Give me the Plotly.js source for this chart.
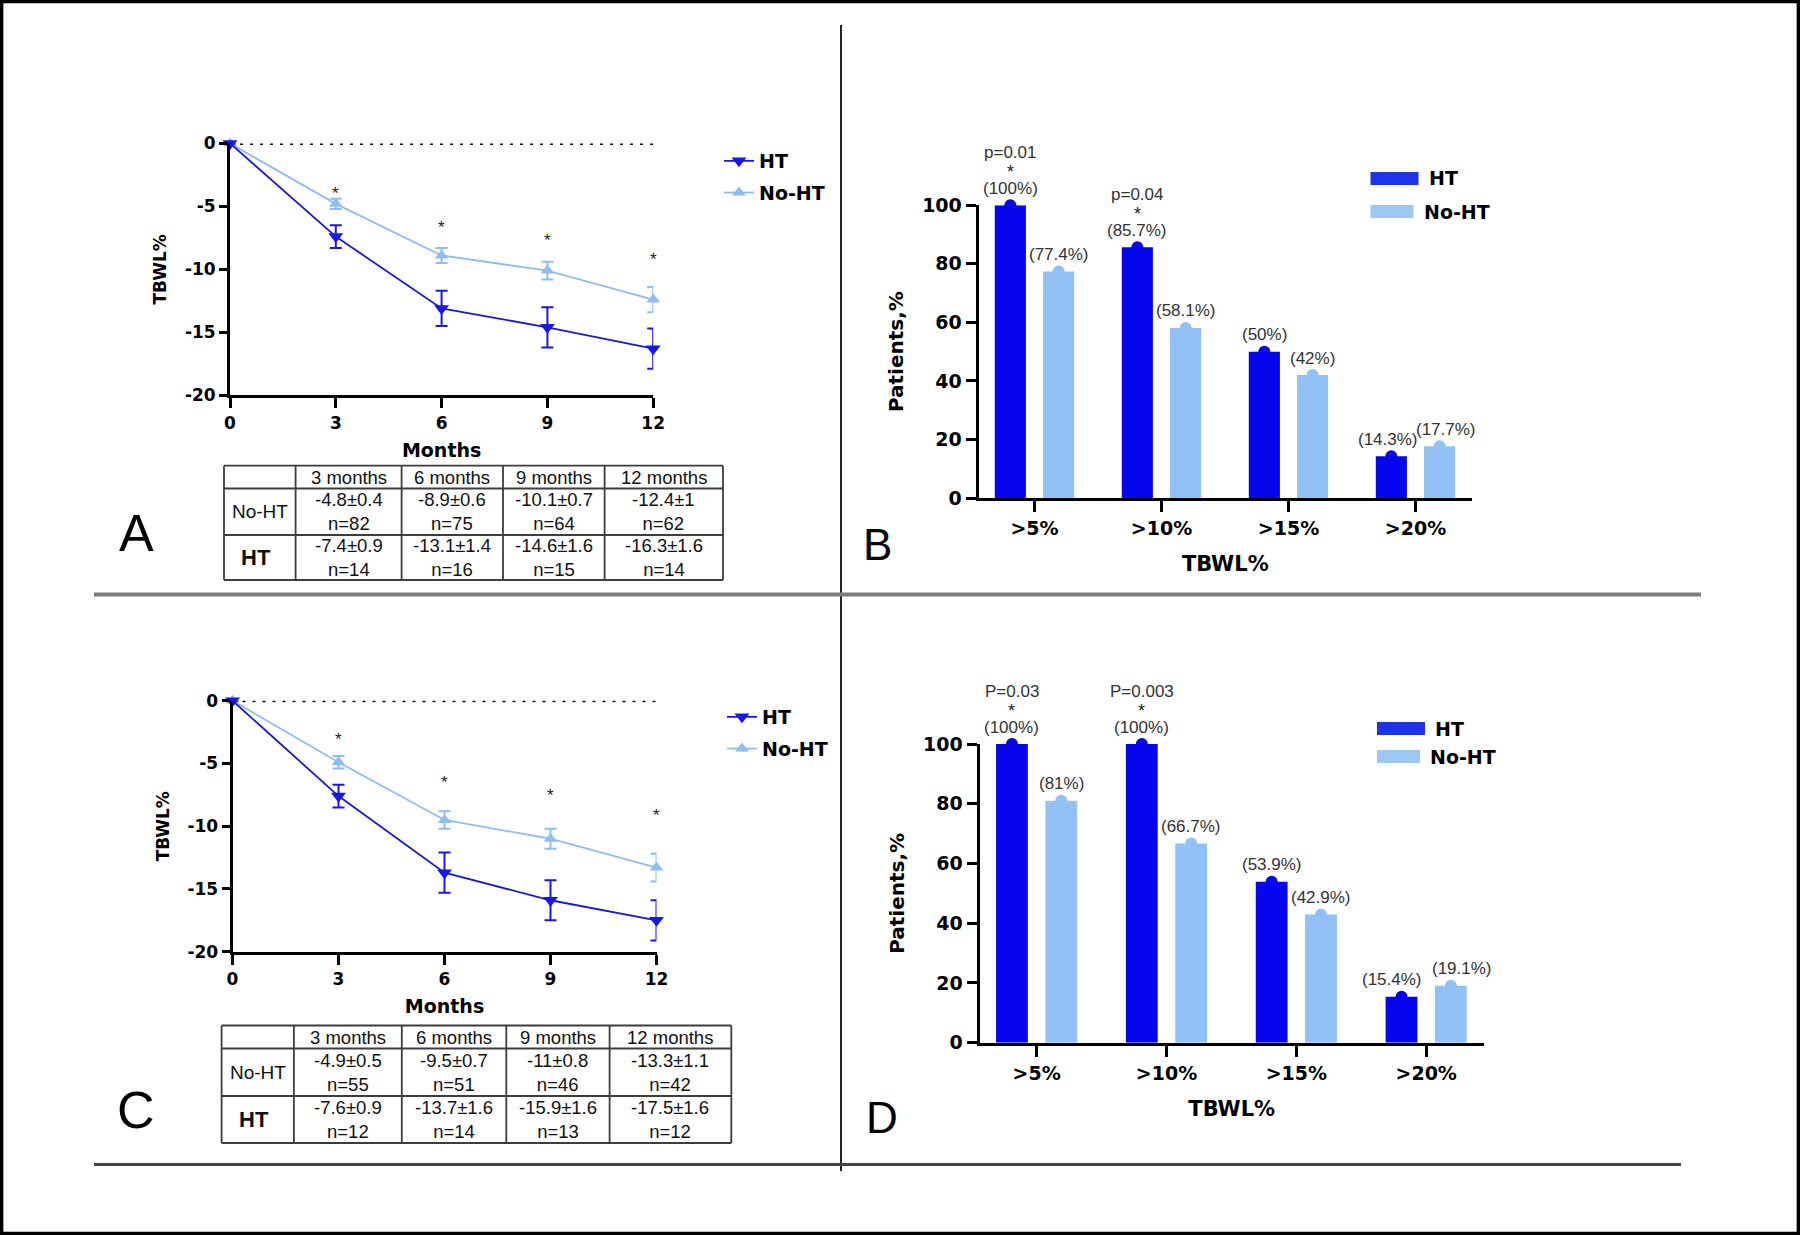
<!DOCTYPE html>
<html>
<head>
<meta charset="utf-8">
<script src="https://cdn.plot.ly/plotly-3.0.1.min.js"></script>
<style>
html,body{margin:0;padding:0;background:#fff;}
#chart{width:1800px;height:1235px;}
</style>
</head>
<body>
<div id="chart"></div>
<script>
// ================= DATA =================
const months = [0, 3, 6, 9, 12];
const monthLabels = ['3 months', '6 months', '9 months', '12 months'];
const groupNames = ['HT', 'No-HT'];

// Panel A – TBWL% over time
const A_HT_mean   = [0, -7.4, -13.1, -14.6, -16.3];
const A_HT_sem    = [0, 0.9, 1.4, 1.6, 1.6];
const A_HT_n      = [14, 16, 15, 14];
const A_NoHT_mean = [0, -4.8, -8.9, -10.1, -12.4];
const A_NoHT_sem  = [0, 0.4, 0.6, 0.7, 1];
const A_NoHT_n    = [82, 75, 64, 62];

// Panel C – TBWL% over time
const C_HT_mean   = [0, -7.6, -13.7, -15.9, -17.5];
const C_HT_sem    = [0, 0.9, 1.6, 1.6, 1.6];
const C_HT_n      = [12, 14, 13, 12];
const C_NoHT_mean = [0, -4.9, -9.5, -11, -13.3];
const C_NoHT_sem  = [0, 0.5, 0.7, 0.8, 1.1];
const C_NoHT_n    = [55, 51, 46, 42];

// Panels B and D – patients reaching TBWL thresholds
const tbwlCats = ['>5%', '>10%', '>15%', '>20%'];
const B_HT    = [100, 85.7, 50, 14.3];
const B_NoHT  = [77.4, 58.1, 42, 17.7];
const B_pvals = ['p=0.01', 'p=0.04', '', ''];
const D_HT    = [100, 100, 53.9, 15.4];
const D_NoHT  = [81, 66.7, 42.9, 19.1];
const D_pvals = ['P=0.03', 'P=0.003', '', ''];

// ================= STYLE / GEOMETRY =================
const W = 1800, H = 1235;
const px = v => v / W;
const py = v => 1 - v / H;

const HT_LINE = '#1717e6', NOHT_LINE = '#8fbdf2';
const HT_BAR = '#0505ee', NOHT_BAR = '#92c2f5';
const HT_SWATCH = '#1d34e8', NOHT_SWATCH = '#9bc7f2';
const BOLD = 'DejaVu Sans, Liberation Sans, Arial, sans-serif';
const REG = 'Liberation Sans, Arial, sans-serif';

// star (significance) label heights for line panels (annotation placement)
const A_starPos = [-3.65, -6.35, -7.4, -8.9];
const C_starPos = [-2.8, -6.2, -7.2, -8.85];

const BAR_OFF = 0.19, BAR_W = 0.245;

const traces = [];
const shapes = [];
const annotations = [];

function tickFont(size) { return {family: BOLD, size: size, weight: 'bold', color: '#000'}; }
function paperText(x, y, text, font, xanchor) {
  return {xref: 'paper', yref: 'paper', x: px(x), y: py(y), text: text, showarrow: false,
    xanchor: xanchor || 'center', yanchor: 'middle', font: font};
}

// ---------- line panels ----------
function addLinePanel(xa, ya, legendId, htM, htS, noM, noS, starPos) {
  traces.push({
    type: 'scatter', mode: 'lines+markers', name: groupNames[1], x: months, y: noM,
    xaxis: xa, yaxis: ya, legend: legendId, legendgroup: legendId + 'noht', legendrank: 2,
    line: {color: NOHT_LINE, width: 1.8},
    marker: {symbol: 'triangle-up', size: 12, color: NOHT_LINE},
    error_y: {type: 'data', array: noS, visible: true, color: NOHT_LINE, thickness: 2, width: 6},
    cliponaxis: false
  });
  traces.push({
    type: 'scatter', mode: 'lines+markers', name: groupNames[0], x: months, y: htM,
    xaxis: xa, yaxis: ya, legend: legendId, legendgroup: legendId + 'ht', legendrank: 1,
    line: {color: HT_LINE, width: 1.8},
    marker: {symbol: 'triangle-down', size: 13, color: HT_LINE},
    error_y: {type: 'data', array: htS, visible: true, color: HT_LINE, thickness: 2, width: 6},
    cliponaxis: false
  });
  // dotted reference line at 0
  shapes.push({type: 'line', xref: xa, yref: ya, x0: months[0], x1: months[months.length - 1], y0: 0, y1: 0,
    line: {color: '#111', width: 3, dash: '3px,7px'}, layer: 'below'});
  // significance stars
  starPos.forEach((s, i) => annotations.push({xref: xa, yref: ya, x: months[i + 1], y: s, text: '*',
    showarrow: false, xanchor: 'center', yanchor: 'middle', yshift: -4, font: {family: REG, size: 17, color: '#222'}}));
}

function lineXAxis(l, r, anchor) {
  return {domain: [px(l), px(r)], range: [0, 12], anchor: anchor,
    tickvals: months, ticktext: months.map(String),
    ticks: 'outside', ticklen: 10, tickwidth: 3, tickcolor: '#000',
    showline: true, linewidth: 3, linecolor: '#000', showgrid: false, zeroline: false,
    tickfont: tickFont(17),
    title: {text: 'Months', font: tickFont(19), standoff: 12}, fixedrange: true};
}
function lineYAxis(b, t, anchor) {
  const tv = [0, -5, -10, -15, -20];
  return {domain: [py(b), py(t)], range: [-20, 0], anchor: anchor,
    tickvals: tv, ticktext: tv.map(String),
    ticks: 'outside', ticklen: 8, tickwidth: 3, tickcolor: '#000',
    showline: true, linewidth: 3, linecolor: '#000', showgrid: false, zeroline: false,
    tickfont: tickFont(17),
    title: {text: 'TBWL%', font: tickFont(17), standoff: 14}, fixedrange: true};
}

// ---------- bar panels ----------
function addBarPanel(xa, ya, ht, noht, pvals, nudgeHT, nudgeNo) {
  const xHT = tbwlCats.map((c, i) => i - BAR_OFF);
  const xNo = tbwlCats.map((c, i) => i + BAR_OFF);
  traces.push({type: 'bar', name: groupNames[0], x: xHT, y: ht, width: BAR_W, xaxis: xa, yaxis: ya,
    marker: {color: HT_BAR, line: {width: 0}}, showlegend: false});
  traces.push({type: 'bar', name: groupNames[1], x: xNo, y: noht, width: BAR_W, xaxis: xa, yaxis: ya,
    marker: {color: NOHT_BAR, line: {width: 0}}, showlegend: false});
  // rounded caps on bar tops
  traces.push({type: 'scatter', mode: 'markers', x: xHT, y: ht, xaxis: xa, yaxis: ya, showlegend: false,
    marker: {symbol: 'circle', size: 12, color: HT_BAR}, cliponaxis: false, hoverinfo: 'skip'});
  traces.push({type: 'scatter', mode: 'markers', x: xNo, y: noht, xaxis: xa, yaxis: ya, showlegend: false,
    marker: {symbol: 'circle', size: 12, color: NOHT_BAR}, cliponaxis: false, hoverinfo: 'skip'});
  const lf = {family: REG, size: 17, color: '#333'};
  const ann = (x, y, text, ys, xs, font) => annotations.push({xref: xa, yref: ya, x: x, y: y, text: text,
    showarrow: false, xanchor: 'center', yanchor: 'middle', yshift: ys, xshift: xs, font: font});
  ht.forEach((v, i) => {
    ann(xHT[i], v, '(' + v + '%)', 17, nudgeHT[i], lf);
    if (pvals[i]) {
      ann(xHT[i], v, '*', 33, 0, {family: REG, size: 18, color: '#222'});
      ann(xHT[i], v, pvals[i], 53, 0, lf);
    }
  });
  noht.forEach((v, i) => ann(xNo[i], v, '(' + v + '%)', 17, nudgeNo[i], lf));
}
function barXAxis(l, r, anchor) {
  return {domain: [px(l), px(r)], range: [-0.44, 3.445], anchor: anchor,
    tickvals: tbwlCats.map((c, i) => i), ticktext: tbwlCats,
    ticks: 'outside', ticklen: 11, tickwidth: 3, tickcolor: '#000',
    showline: true, linewidth: 3, linecolor: '#000', showgrid: false, zeroline: false,
    tickfont: tickFont(19),
    title: {text: 'TBWL%', font: tickFont(21), standoff: 19}, fixedrange: true};
}
function barYAxis(b, t, anchor) {
  const tv = [0, 20, 40, 60, 80, 100];
  return {domain: [py(b), py(t)], range: [0, 100], anchor: anchor,
    tickvals: tv, ticktext: tv.map(String),
    ticks: 'outside', ticklen: 10, tickwidth: 3, tickcolor: '#000',
    showline: true, linewidth: 3, linecolor: '#000', showgrid: false, zeroline: false,
    tickfont: tickFont(19),
    title: {text: 'Patients,%', font: tickFont(20), standoff: 14}, fixedrange: true};
}
function addBarLegend(x, yHT, yNo) {
  shapes.push({type: 'rect', xref: 'paper', yref: 'paper', x0: px(x), x1: px(x + 48), y0: py(yHT + 6.5), y1: py(yHT - 6.5),
    fillcolor: HT_SWATCH, line: {width: 0}});
  shapes.push({type: 'rect', xref: 'paper', yref: 'paper', x0: px(x), x1: px(x + 43), y0: py(yNo + 6.5), y1: py(yNo - 6.5),
    fillcolor: NOHT_SWATCH, line: {width: 0}});
  annotations.push(paperText(x + 56, yHT, groupNames[0], tickFont(19), 'left'));
  annotations.push(paperText(x + 51, yNo, groupNames[1], tickFont(19), 'left'));
}

// ---------- tables ----------
function addTable(cols, rows, noM, noS, noN, htM, htS, htN) {
  const lc = '#3d3d3d';
  rows.forEach(y => shapes.push({type: 'line', xref: 'paper', yref: 'paper', x0: px(cols[0]), x1: px(cols[cols.length - 1]),
    y0: py(y), y1: py(y), line: {color: lc, width: 1.8}}));
  cols.forEach(x => shapes.push({type: 'line', xref: 'paper', yref: 'paper', x0: px(x), x1: px(x),
    y0: py(rows[0]), y1: py(rows[rows.length - 1]), line: {color: lc, width: 1.8}}));
  const tf = {family: REG, size: 18.5, color: '#111'};
  const cx = i => (cols[i] + cols[i + 1]) / 2;
  const cy = j => (rows[j] + rows[j + 1]) / 2;
  monthLabels.forEach((t, i) => annotations.push(paperText(cx(i + 1), cy(0), t, tf)));
  annotations.push(paperText(cx(0), cy(1), groupNames[1], {family: REG, size: 19, color: '#111'}));
  annotations.push(paperText(cx(0) - 4, cy(2), '<b>' + groupNames[0] + '</b>', {family: REG, size: 22, color: '#111'}));
  monthLabels.forEach((t, i) => {
    annotations.push(paperText(cx(i + 1), cy(1), noM[i + 1] + '±' + noS[i + 1] + '<br>n=' + noN[i], tf));
    annotations.push(paperText(cx(i + 1), cy(2), htM[i + 1] + '±' + htS[i + 1] + '<br>n=' + htN[i], tf));
  });
}

// ================= BUILD =================
addLinePanel('x', 'y', 'legend', A_HT_mean, A_HT_sem, A_NoHT_mean, A_NoHT_sem, A_starPos);
addBarPanel('x2', 'y2', B_HT, B_NoHT, B_pvals, [0, 0, 0, -3], [0, 0, 0, 6]);
addLinePanel('x3', 'y3', 'legend2', C_HT_mean, C_HT_sem, C_NoHT_mean, C_NoHT_sem, C_starPos);
addBarPanel('x4', 'y4', D_HT, D_NoHT, D_pvals, [0, 0, 0, -10], [0, 0, 0, 11]);

addBarLegend(1370.5, 178.5, 211.5);
addBarLegend(1377, 728.5, 756.5);

addTable([224, 295.6, 401.6, 503, 604.6, 723], [465.7, 488.5, 535, 580],
  A_NoHT_mean, A_NoHT_sem, A_NoHT_n, A_HT_mean, A_HT_sem, A_HT_n);
addTable([221.6, 293.9, 401.8, 506.3, 609.6, 731.3], [1025.5, 1048.5, 1096, 1143],
  C_NoHT_mean, C_NoHT_sem, C_NoHT_n, C_HT_mean, C_HT_sem, C_HT_n);

// panel letters
[['A', 136.5, 533, 52], ['B', 877, 544, 44], ['C', 136, 1110, 52], ['D', 882, 1117, 44]].forEach(p =>
  annotations.push(paperText(p[1], p[2], p[0], {family: REG, size: p[3], color: '#000'})));

// separators and frame
shapes.push({type: 'line', xref: 'paper', yref: 'paper', x0: px(841), x1: px(841), y0: py(25), y1: py(1171), line: {color: '#222', width: 2}});
shapes.push({type: 'line', xref: 'paper', yref: 'paper', x0: px(94), x1: px(1701), y0: py(594.5), y1: py(594.5), line: {color: '#7c7c7c', width: 4}});
shapes.push({type: 'line', xref: 'paper', yref: 'paper', x0: px(94), x1: px(1681), y0: py(1164.5), y1: py(1164.5), line: {color: '#444', width: 3}});
shapes.push({type: 'rect', xref: 'paper', yref: 'paper', x0: px(1.6), x1: px(1798.4), y0: py(1233.4), y1: py(1.6), line: {color: '#000', width: 3.5}});

const legendBase = {xanchor: 'left', yanchor: 'top', bgcolor: 'rgba(0,0,0,0)', borderwidth: 0,
  font: tickFont(19), traceorder: 'grouped', tracegroupgap: 4, itemclick: false, itemdoubleclick: false};

const layout = {
  width: W, height: H, margin: {l: 0, r: 0, t: 0, b: 0},
  paper_bgcolor: '#fff', plot_bgcolor: 'rgba(0,0,0,0)',
  showlegend: true, barmode: 'overlay',
  xaxis: lineXAxis(230, 653.2, 'y'),
  yaxis: lineYAxis(395.3, 143.4, 'x'),
  xaxis2: barXAxis(978.6, 1472, 'y2'),
  yaxis2: barYAxis(498, 205.3, 'x2'),
  xaxis3: lineXAxis(232.5, 656.5, 'y3'),
  yaxis3: lineYAxis(951.7, 700.7, 'x3'),
  xaxis4: barXAxis(979.5, 1484, 'y4'),
  yaxis4: barYAxis(1042.7, 744, 'x4'),
  legend: Object.assign({x: px(719), y: py(142)}, legendBase),
  legend2: Object.assign({x: px(722), y: py(698)}, legendBase),
  shapes: shapes,
  annotations: annotations
};

Plotly.newPlot('chart', traces, layout, {displayModeBar: false, responsive: false});
</script>
</body>
</html>
